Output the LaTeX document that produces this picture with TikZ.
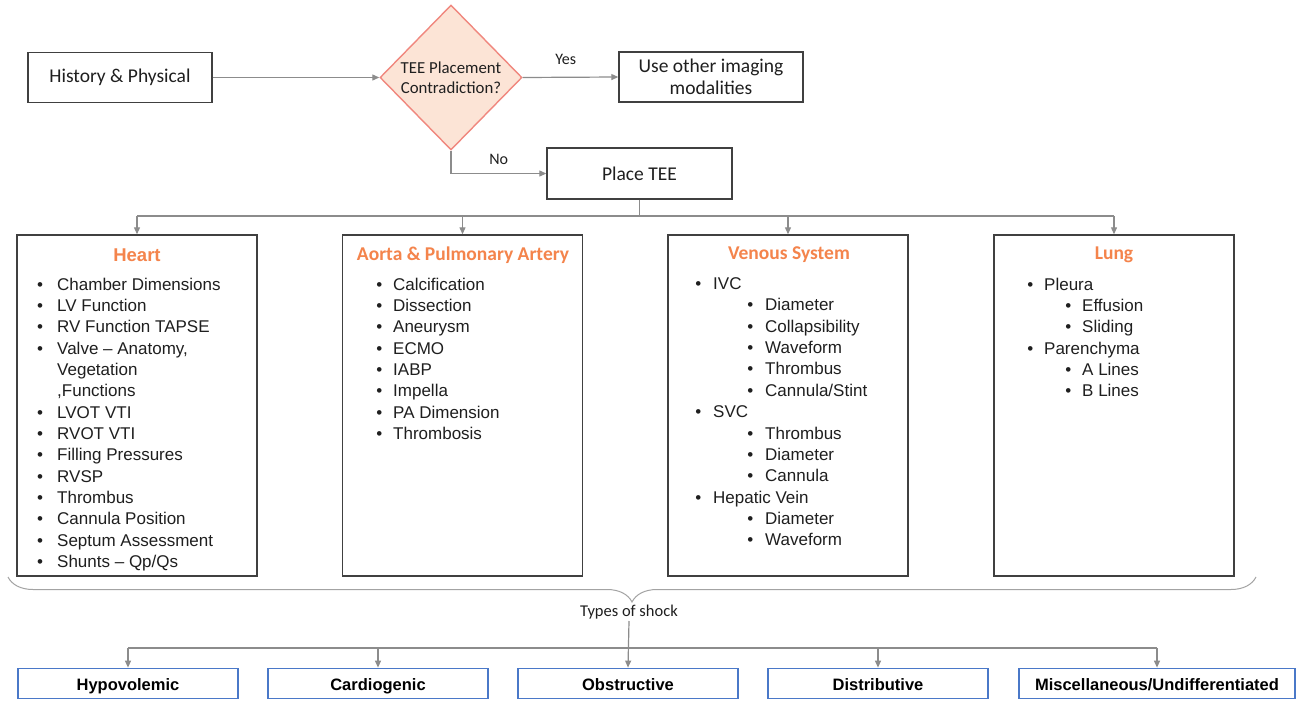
\documentclass[tikz,border=0pt]{standalone}
\usepackage{fontspec}
\setmainfont{Liberation Sans}
\newfontfamily\calfont{Carlito}
\usetikzlibrary{arrows.meta,shapes.geometric,decorations.pathreplacing,calc}
\definecolor{gline}{HTML}{8C8C8C}
\definecolor{bxline}{HTML}{404040}
\definecolor{dfill}{HTML}{FCE4D6}
\definecolor{dline}{HTML}{F0877E}
\definecolor{ttl}{HTML}{F4844C}
\definecolor{bblue}{HTML}{4A78C8}
\definecolor{txt}{HTML}{1F1F1F}
\newcommand{\bla}{\llap{\textbullet\hspace{14pt}}}
\newcommand{\blb}{\llap{\textbullet\hspace{11pt}}}
\newcommand{\blc}{\llap{\textbullet\hspace{12pt}}}
\newcommand{\subi}{\hspace*{52pt}}
\newcommand{\subl}{\hspace*{38pt}}
\begin{document}
\begin{tikzpicture}[x=1pt,y=-1pt,
  box/.style={draw=bxline,line width=1.4pt,rectangle,inner sep=0pt,
    font=\calfont\fontsize{19.5}{22.5}\selectfont,align=center,text=txt},
  bigbox/.style={draw=bxline,line width=1.4pt,rectangle,inner sep=0pt,
    minimum width=240pt,minimum height=341pt},
  ttlnode/.style={inner sep=0pt,text=ttl,font=\calfont\bfseries\fontsize{19.5}{22}\selectfont},
  list/.style={inner sep=0pt,anchor=north west,align=left,text=txt,
    font=\fontsize{17}{21.35}\selectfont},
  shock/.style={draw=bblue,line width=1.8pt,rectangle,inner sep=0pt,
    minimum height=30pt,minimum width=220pt,text=black,
    text height=13.5pt,text depth=0.5pt,
    font=\bfseries\fontsize{16.5}{19}\selectfont},
  conn/.style={draw=gline,line width=1.2pt,-{Triangle[length=7pt,width=6pt]}},
  gl/.style={draw=gline,line width=1.2pt},
  lbl/.style={inner sep=0pt,text=txt,font=\calfont\fontsize{16}{19}\selectfont},
]
\useasboundingbox[fill=white] (0,0) rectangle (1299,701);

% top row
\node[box,minimum width=184pt,minimum height=50pt] (hp) at (120,77.5) {History \& Physical};
\node[diamond,draw=dline,fill=dfill,line width=1.4pt,inner sep=0pt,aspect=1,
  minimum width=142pt,minimum height=145pt,align=center,text=txt,
  font=\calfont\fontsize{16.8}{20.5}\selectfont] (dia) at (451,77.5) {TEE Placement\\Contradiction?};
\node[box,minimum width=184pt,minimum height=50pt] (other) at (711,77) {Use other imaging\\modalities};
\node[box,minimum width=185pt,minimum height=51pt] (tee) at (639.5,173.5) {Place TEE};

\draw[conn] (hp.east) -- (dia.west);
\draw[conn] (dia.east) -- node[lbl,pos=0.45,above=12pt] (yes) {Yes} (other.west);
\draw[conn] (dia.south) |- node[lbl,pos=0.75,above=8pt] (no) {No} (tee.west);

% category boxes
\node[bigbox] (heart) at (137,405.5) {};
\node[bigbox] (aorta) at (462.5,405.5) {};
\node[bigbox] (venous) at (788,405.5) {};
\node[bigbox] (lung) at (1114,405.5) {};

\coordinate (bus) at (639.5,216);
\draw[gl] (tee.south) -- (bus);
\draw[gl] (heart.north |- bus) -- (lung.north |- bus);
\foreach \b in {heart,aorta,venous,lung}{
  \draw[conn] (\b.north |- bus) -- (\b.north);
}

\node[ttlnode,font=\bfseries\fontsize{18.5}{22}\selectfont] (heartT) at (137,255) {Heart};
\node[ttlnode] (aortaT) at (463,255) {Aorta \& Pulmonary Artery};
\node[ttlnode] (venousT) at (789,255) {Venous System};
\node[ttlnode] (lungT) at (1114,255) {Lung};

\node[list] (heartL) at (57,277.5) {\bla Chamber Dimensions\\
\bla LV Function\\
\bla RV Function TAPSE\\
\bla Valve – Anatomy,\\
Vegetation\\
,Functions\\
\bla LVOT VTI\\
\bla RVOT VTI\\
\bla Filling Pressures\\
\bla RVSP\\
\bla Thrombus\\
\bla Cannula Position\\
\bla Septum Assessment\\
\bla Shunts – Qp/Qs};

\node[list] (aortaL) at (393,277.5) {\blb Calcification\\
\blb Dissection\\
\blb Aneurysm\\
\blb ECMO\\
\blb IABP\\
\blb Impella\\
\blb PA Dimension\\
\blb Thrombosis};

\node[list] (venousL) at (713,277.5) {\blc IVC\\
\subi\blc Diameter\\
\subi\blc Collapsibility\\
\subi\blc Waveform\\
\subi\blc Thrombus\\
\subi\blc Cannula/Stint\\
\blc SVC\\
\subi\blc Thrombus\\
\subi\blc Diameter\\
\subi\blc Cannula\\
\blc Hepatic Vein\\
\subi\blc Diameter\\
\subi\blc Waveform};

\node[list] (lungL) at (1044,277.5) {\blb Pleura\\
\subl\blb Effusion\\
\subl\blb Sliding\\
\blb Parenchyma\\
\subl\blb A Lines\\
\subl\blb B Lines};

% brace
\coordinate (braceL) at (8,577);
\coordinate (braceR) at (1256,577);
\draw[draw=gline!80,line width=1pt,decorate,decoration={brace,mirror,amplitude=25pt}] (braceL) -- (braceR);
\node[lbl,font=\calfont\fontsize{16.5}{19}\selectfont] (types) at (629,612) {Types of shock};

% shock boxes
\node[shock] (hypo) at (128,683.5) {Hypovolemic};
\node[shock] (cardio) at (378,683.5) {Cardiogenic};
\node[shock] (obst) at (628,683.5) {Obstructive};
\node[shock] (distr) at (878,683.5) {Distributive};
\node[shock,minimum width=276pt] (misc) at (1157,683.5) {Miscellaneous/Undifferentiated};

\coordinate (bus2) at (628,648);
\draw[conn] (types.south |- 0,621) -- (obst.north);
\draw[gl] (hypo.north |- bus2) -- (misc.north |- bus2);
\foreach \b in {hypo,cardio,distr,misc}{
  \draw[conn] (\b.north |- bus2) -- (\b.north);
}
\end{tikzpicture}
\end{document}
